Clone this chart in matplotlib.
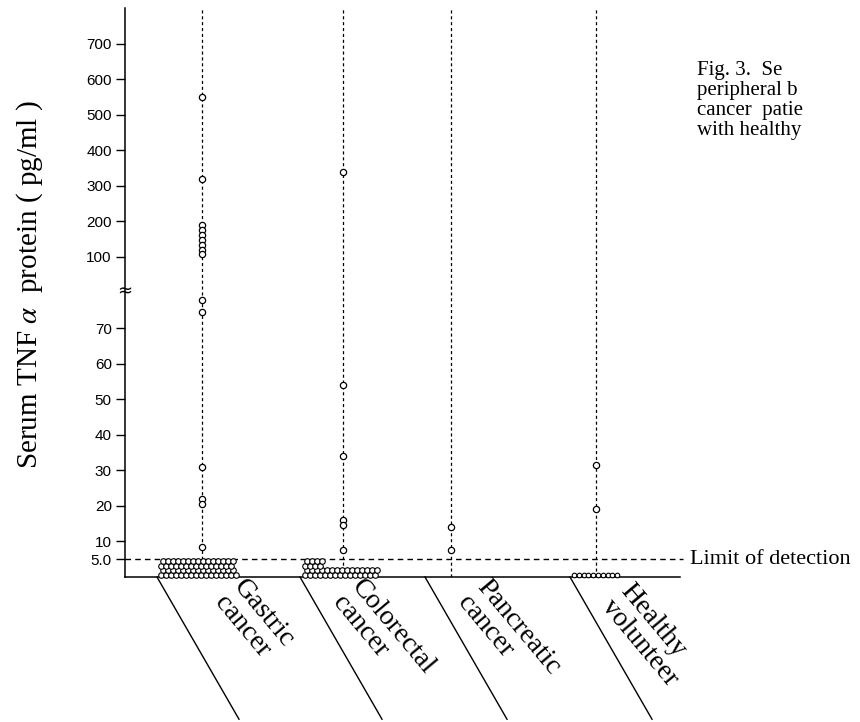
import numpy as np
import matplotlib.pyplot as plt

plt.rcParams['mathtext.fontset'] = 'stix'

# detected serum TNF-alpha values (pg/ml) per group
label_lines = [('Gastric', 'cancer'), ('Colorectal', 'cancer'),
               ('Pancreatic', 'cancer'), ('Healthy', 'volunteer')]
gastric = [550, 318, 190, 176, 162, 148, 134, 120, 107, 78, 74.5, 31, 22, 20.5, 8.5]
colorectal = [340, 54, 34, 16, 14.5, 7.5]
pancreatic = [14, 7.5]
healthy = [31.5, 19]

# samples below the detection limit, circles per row (bottom row first)
gastric_low = [16, 15, 15, 15]
colorectal_low = [15, 15, 4, 4]
pancreatic_low = []
healthy_low = [10]

upper_ticks = [100, 200, 300, 400, 500, 600, 700]
lower_ticks = [5, 10, 20, 30, 40, 50, 60, 70]
lower_labels = ['5.0', '10', '20', '30', '40', '50', '60', '70']
detect_limit = 5.0

caption = ['Fig. 3.  Se', 'peripheral b', 'cancer  patie', 'with healthy']

# layout (x in units of 100 px from the y axis)
group_x = [0.77, 2.18, 3.26, 4.71]
low_start = [0.355, 1.795, 0.0, 4.49]
low_step = [0.05, 0.05, 0.05, 0.048]
low_ms = [4.0, 4.0, 4.0, 3.3]
sep_x = [0.32, 1.75, 3.00, 4.45]
label_off = [(52, -30), (27, -30), (27, -30), (26, -34)]


def fwd(v):
    v = np.asarray(v, dtype=float)
    return np.where(v <= 80, v, np.where(v < 100, 80 + (v - 80) * 0.5, 80 + v / 10))


def inv(t):
    t = np.asarray(t, dtype=float)
    return np.where(t <= 80, t, np.where(t < 90, 80 + (t - 80) * 2, (t - 80) * 10))


fig = plt.figure(figsize=(8.6, 7.22), dpi=100)
ax = fig.add_axes([125 / 860, 145 / 722, 555 / 860, 569 / 722])
ax.set_yscale('function', functions=(fwd, inv))
ax.set_xlim(0, 5.55)
ax.set_ylim(0, 800)

serif = 'Liberation Serif'
groups = [gastric, colorectal, pancreatic, healthy]
lows = [gastric_low, colorectal_low, pancreatic_low, healthy_low]

for i, vals in enumerate(groups):
    x = group_x[i]
    ax.vlines(x, 0, 800, colors='black', lw=0.9, linestyles=(0, (2.5, 2.2)), zorder=2)
    ax.plot([x] * len(vals), vals, 'o', mfc='white', mec='black', ms=4.5, mew=0.9,
            zorder=4, clip_on=False)
    row_h = 1.25
    for r, n in enumerate(lows[i]):
        xs = low_start[i] + low_step[i] * (np.arange(n) + 0.5 * (r % 2))
        ys = np.full(n, row_h * (r + 0.5))
        ax.plot(xs, ys, 'o', mfc='white', mec='black', ms=low_ms[i], mew=0.8,
                zorder=3, clip_on=False)

    # slanted separator and rotated group label
    x0 = sep_x[i]
    ax.plot([x0, x0 + 0.82], [0, -40], color='black', lw=1, clip_on=False)
    ax.annotate('\n'.join(label_lines[i]), xy=(x0, 0), xytext=label_off[i],
                textcoords='offset pixels', rotation=-50, rotation_mode='anchor',
                ha='left', va='bottom', multialignment='left', linespacing=1.0,
                fontsize=20, family=serif, annotation_clip=False)

# detection limit
ax.hlines(detect_limit, 0, 5.58, colors='black', lw=1, linestyles=(0, (4, 3)),
          clip_on=False, zorder=2)
ax.text(5.65, detect_limit, 'Limit of detection', va='center', ha='left',
        fontsize=16, family=serif, clip_on=False)

ax.set_yticks(lower_ticks + upper_ticks)
ax.set_yticklabels(lower_labels + [str(t) for t in upper_ticks],
                   family='Liberation Sans', fontsize=11)
ax.set_xticks([])
ax.tick_params(axis='y', length=6.5, width=1, pad=3, direction='out')
ax.minorticks_off()
for s in ['top', 'right']:
    ax.spines[s].set_visible(False)
ax.spines['left'].set_linewidth(1.1)
ax.spines['bottom'].set_linewidth(1.1)

# axis break mark
ax.text(0, 80.5, '\u2248', ha='center', va='center', fontsize=13, clip_on=False)

ax.set_ylabel(r'Serum TNF $\alpha$  protein ( pg/ml )', family=serif, fontsize=21)
ax.yaxis.set_label_coords(-0.145, 0.513)

for k, line in enumerate(caption):
    fig.text(697 / 860, 1 - (75 + 20 * k) / 722, line, family=serif, fontsize=15,
             ha='left', va='baseline')

fig.savefig('out.png', dpi=100)
